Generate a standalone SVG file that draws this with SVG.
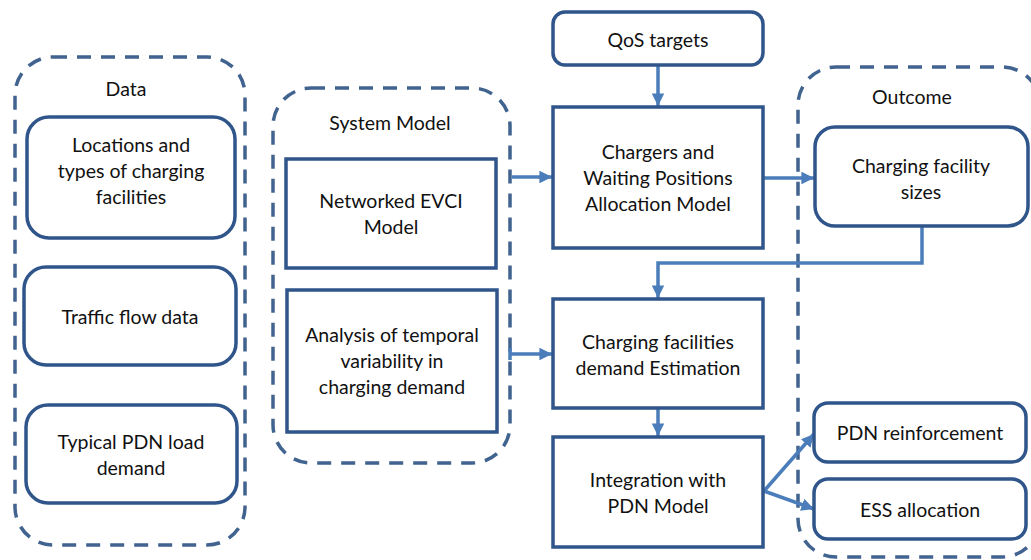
<svg xmlns="http://www.w3.org/2000/svg" width="1031" height="560" viewBox="0 0 1031 560">
  <style>
    .group { fill: none; stroke: #41638F; stroke-width: 3.5; stroke-dasharray: 14 10; }
    .box { fill: #FFFFFF; stroke: #2F558A; stroke-width: 3.5; }
    .link { fill: none; stroke: #4A7DBA; stroke-width: 3.5; }
    text { font-family: Lato, "Open Sans", sans-serif; font-size: 19.5px; fill: #111111; text-anchor: middle; dominant-baseline: central; }
  </style>
  <defs>
    <marker id="arrow" viewBox="0 0 10 10" refX="10" refY="5" markerWidth="3.6" markerHeight="3.6" markerUnits="strokeWidth" orient="auto">
      <path d="M0,0 L10,5 L0,10 Z" fill="#4A7DBA"/>
    </marker>
  </defs>
  <rect width="1031" height="560" fill="#FFFFFF"/>

  <!-- Dashed grouping frames -->
  <g id="data-group">
    <rect class="group" x="15" y="57" width="230" height="488" rx="38"/>
    <text x="126" y="88">Data</text>
  </g>
  <g id="system-model-group">
    <rect class="group" x="273" y="88" width="237" height="375" rx="38"/>
    <text x="390" y="122">System Model</text>
  </g>
  <g id="outcome-group">
    <rect class="group" x="798" y="67" width="242" height="490" rx="38"/>
    <text x="912" y="96">Outcome</text>
  </g>

  <!-- Connectors -->
  <g id="connectors">
    <line class="link" x1="512" y1="177" x2="552" y2="177" marker-end="url(#arrow)"/>
    <line class="link" x1="510" y1="348" x2="510" y2="360"/>
    <line class="link" x1="510" y1="354" x2="552" y2="354" marker-end="url(#arrow)"/>
    <line class="link" x1="658" y1="65" x2="658" y2="106" marker-end="url(#arrow)"/>
    <line class="link" x1="763" y1="178" x2="814" y2="178" marker-end="url(#arrow)"/>
    <polyline class="link" points="922,226 922,263 658,263 658,298" marker-end="url(#arrow)"/>
    <line class="link" x1="658" y1="408" x2="658" y2="436" marker-end="url(#arrow)"/>
    <line class="link" x1="764" y1="491" x2="814" y2="434" marker-end="url(#arrow)"/>
    <line class="link" x1="764" y1="491" x2="814" y2="509" marker-end="url(#arrow)"/>
  </g>

  <!-- Data inputs -->
  <g id="locations-types">
    <rect class="box" x="27" y="117" width="208" height="121" rx="22"/>
    <text x="131" y="144">Locations and</text>
    <text x="131" y="170">types of charging</text>
    <text x="131" y="196">facilities</text>
  </g>
  <g id="traffic-flow">
    <rect class="box" x="24" y="267" width="212" height="98" rx="22"/>
    <text x="130" y="316">Traffic flow data</text>
  </g>
  <g id="pdn-load">
    <rect class="box" x="26" y="405" width="211" height="98" rx="22"/>
    <text x="131" y="441">Typical PDN load</text>
    <text x="131" y="467">demand</text>
  </g>

  <!-- System model -->
  <g id="evci-model">
    <rect class="box" x="286" y="159" width="210" height="109"/>
    <text x="391" y="200">Networked EVCI</text>
    <text x="391" y="226">Model</text>
  </g>
  <g id="temporal-variability">
    <rect class="box" x="287" y="290" width="210" height="142"/>
    <text x="392" y="334">Analysis of temporal</text>
    <text x="392" y="360">variability in</text>
    <text x="392" y="386">charging demand</text>
  </g>

  <!-- Processing chain -->
  <g id="qos-targets">
    <rect class="box" x="553" y="12" width="210" height="53" rx="12"/>
    <text x="658" y="39">QoS targets</text>
  </g>
  <g id="allocation-model">
    <rect class="box" x="553" y="107" width="210" height="141"/>
    <text x="658" y="151">Chargers and</text>
    <text x="658" y="177">Waiting Positions</text>
    <text x="658" y="203">Allocation Model</text>
  </g>
  <g id="demand-estimation">
    <rect class="box" x="553" y="299" width="210" height="109"/>
    <text x="658" y="341">Charging facilities</text>
    <text x="658" y="367">demand Estimation</text>
  </g>
  <g id="pdn-integration">
    <rect class="box" x="553" y="437" width="210" height="110"/>
    <text x="658" y="479">Integration with</text>
    <text x="658" y="505">PDN Model</text>
  </g>

  <!-- Outcomes -->
  <g id="facility-sizes">
    <rect class="box" x="815" y="127" width="213" height="99" rx="20"/>
    <text x="921" y="165">Charging facility</text>
    <text x="921" y="191">sizes</text>
  </g>
  <g id="pdn-reinforcement">
    <rect class="box" x="814" y="403" width="212" height="59" rx="14"/>
    <text x="920" y="432">PDN reinforcement</text>
  </g>
  <g id="ess-allocation">
    <rect class="box" x="814" y="479" width="212" height="60" rx="14"/>
    <text x="920" y="509">ESS allocation</text>
  </g>
</svg>
